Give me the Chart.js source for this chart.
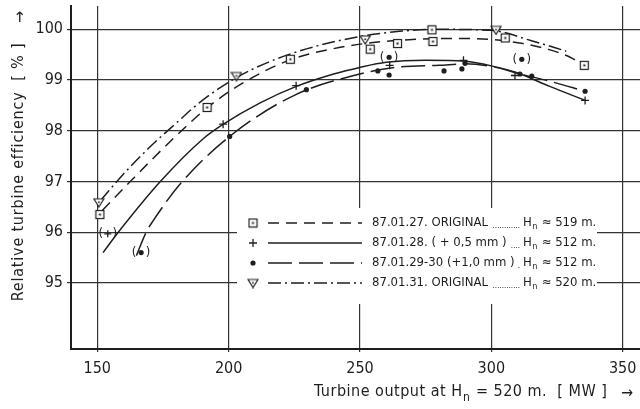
<!DOCTYPE html>
<html>
<head>
<meta charset="utf-8">
<script src="https://cdn.jsdelivr.net/npm/chart.js@4"></script>
<style>
  html, body { margin: 0; padding: 0; background: #fff; }
  #wrap { width: 640px; height: 409px; position: relative; }
</style>
</head>
<body>
<div id="wrap"><canvas id="chart"></canvas></div>
<script>
// Axis ticks
const xTicks = [150, 200, 250, 300, 350];
const yTicks = [95, 96, 97, 98, 99, 100];

// 87.01.27 ORIGINAL (squares, dashed curve)
const s27X = [151.0, 191.8, 223.5, 253.9, 264.3, 277.4, 277.8, 305.3, 335.4];
const s27Y = [96.35, 98.46, 99.41, 99.61, 99.72, 99.99, 99.76, 99.83, 99.29];
const c27X = [151.9, 165, 180, 192, 205, 223.5, 240, 255, 270, 285, 300, 312, 322, 330, 335.4];
const c27Y = [96.43, 97.13, 97.9, 98.46, 98.93, 99.40, 99.62, 99.74, 99.80, 99.82, 99.80, 99.72, 99.60, 99.45, 99.29];

// 87.01.28 (+0,5 mm) (crosses, solid curve)
const s28X = [197.9, 225.7, 261.3, 289.4, 309.0, 335.7];
const s28Y = [98.13, 98.89, 99.29, 99.39, 99.09, 98.60];
const p28X = [154.0];
const p28Y = [95.97];
const c28X = [152.2, 158, 174, 190, 198, 212, 226, 240, 250, 260, 275, 290, 300, 310, 322, 335.7];
const c28Y = [95.6, 96.0, 97.0, 97.83, 98.13, 98.55, 98.88, 99.12, 99.25, 99.35, 99.39, 99.37, 99.28, 99.14, 98.88, 98.60];

// 87.01.29-30 (+1,0 mm) (dots, long dashes)
const s29X = [200.4, 229.6, 256.8, 261.1, 282.0, 288.8, 290.0, 310.9, 315.4, 335.7];
const s29Y = [97.89, 98.81, 99.18, 99.10, 99.18, 99.22, 99.33, 99.12, 99.08, 98.78];
const p29X = [166.7, 261.1, 311.6];
const p29Y = [95.60, 99.45, 99.41];
const c29X = [164.9, 168.6, 171.3, 181.7, 200.4, 225, 250, 265, 280, 290, 300, 311, 322, 335.7];
const c29Y = [95.54, 96.0, 96.23, 96.96, 97.89, 98.7, 99.12, 99.26, 99.29, 99.32, 99.27, 99.12, 98.98, 98.78];

// 87.01.31 ORIGINAL (triangles, dash-dot curve)
const s31X = [150.6, 203.0, 252.0, 301.8];
const s31Y = [96.59, 99.08, 99.80, 99.99];
const c31X = [151.3, 160, 170, 180, 190, 203, 215, 230, 250, 265, 280, 300, 315, 328.5];
const c31Y = [96.63, 97.15, 97.68, 98.15, 98.6, 99.05, 99.35, 99.62, 99.86, 99.96, 100.0, 99.98, 99.78, 99.57];

// Legend texts
const legendDates = ['87.01.27. ORIGINAL', '87.01.28. ( + 0,5 mm )', '87.01.29-30 (+1,0 mm )', '87.01.31. ORIGINAL'];
const legendHeads = ['519', '512', '512', '520'];

const INK = '#1e1e1e';
const FONT = '"Liberation Sans Narrow", "DejaVu Sans Condensed", "Liberation Sans", sans-serif';

function pts(xs, ys) {
    return xs.map((x, i) => ({ x: x, y: ys[i] }));
}

// little square with a dot in it
function makeSquare() {
    const c = document.createElement('canvas');
    c.width = 11; c.height = 11;
    const g = c.getContext('2d');
    g.fillStyle = '#fff';
    g.fillRect(1, 1, 9, 9);
    g.strokeStyle = INK;
    g.lineWidth = 1.2;
    g.strokeRect(1.5, 1.5, 8, 8);
    g.fillStyle = INK;
    g.fillRect(4.5, 4.5, 2, 2);
    return c;
}

// down-pointing triangle
function makeTriangle() {
    const c = document.createElement('canvas');
    c.width = 12; c.height = 11;
    const g = c.getContext('2d');
    g.fillStyle = '#fff';
    g.strokeStyle = INK;
    g.lineWidth = 1.2;
    g.beginPath();
    g.moveTo(1, 2); g.lineTo(11, 2); g.lineTo(6, 10); g.closePath();
    g.fill(); g.stroke();
    g.fillStyle = INK;
    g.fillRect(5.2, 4.5, 1.6, 1.6);
    return c;
}

const SQUARE = makeSquare();
const TRIANGLE = makeTriangle();

const dash27 = [11, 7];
const dash28 = [];
const dash29 = [24, 7];
const dash31 = [13, 4, 2, 4];

function curve(xs, ys, dash) {
    return {
        data: pts(xs, ys), showLine: true, borderColor: INK, borderWidth: 1.5,
        borderDash: dash, pointRadius: 0, cubicInterpolationMode: 'monotone', fill: false
    };
}

const datasets = [
    { data: pts(s27X, s27Y), pointStyle: SQUARE, showLine: false },
    { data: pts(s31X, s31Y), pointStyle: TRIANGLE, showLine: false },
    { data: pts(s28X, s28Y), pointStyle: 'cross', pointRadius: 4, borderColor: INK, borderWidth: 1.3, showLine: false },
    { data: pts(p28X, p28Y), pointStyle: 'cross', pointRadius: 3.5, borderColor: INK, borderWidth: 1.3, showLine: false, paren: true },
    { data: pts(s29X, s29Y), pointStyle: 'circle', pointRadius: 2.6, backgroundColor: INK, borderColor: INK, borderWidth: 0, showLine: false },
    { data: pts(p29X, p29Y), pointStyle: 'circle', pointRadius: 2.6, backgroundColor: INK, borderColor: INK, borderWidth: 0, showLine: false, paren: true },
    curve(c27X, c27Y, dash27),
    curve(c28X, c28Y, dash28),
    curve(c29X, c29Y, dash29),
    curve(c31X, c31Y, dash31)
];

// "H" with subscript n, then rest of the string; returns end x
function drawHn(ctx, x, y, size, rest) {
    ctx.font = size + 'px ' + FONT;
    ctx.fillText('H', x, y);
    let w = ctx.measureText('H').width;
    ctx.font = Math.round(size * 0.72) + 'px ' + FONT;
    ctx.fillText('n', x + w + 0.5, y + size * 0.3);
    w += ctx.measureText('n').width + 1;
    ctx.font = size + 'px ' + FONT;
    ctx.fillText(rest, x + w, y);
    return x + w + ctx.measureText(rest).width;
}

const boxLegend = {
    id: 'boxLegend',
    beforeDatasetsDraw(chart) {
        const ctx = chart.ctx;
        ctx.save();
        ctx.fillStyle = '#fff';
        ctx.fillRect(237, 208, 360, 96);
        ctx.restore();
    },
    afterDatasetsDraw(chart) {
        const ctx = chart.ctx;
        const rows = [
            { mark: SQUARE, dash: dash27 },
            { mark: 'cross', dash: dash28 },
            { mark: 'dot', dash: dash29 },
            { mark: TRIANGLE, dash: dash31 }
        ];
        ctx.save();
        ctx.fillStyle = INK;
        ctx.strokeStyle = INK;
        rows.forEach((r, i) => {
            const y = 223 + i * 20;
            // marker
            if (r.mark === 'cross') {
                ctx.lineWidth = 1.3;
                ctx.setLineDash([]);
                ctx.beginPath();
                ctx.moveTo(249, y); ctx.lineTo(257, y);
                ctx.moveTo(253, y - 4); ctx.lineTo(253, y + 4);
                ctx.stroke();
            } else if (r.mark === 'dot') {
                ctx.beginPath();
                ctx.arc(253, y, 2.6, 0, Math.PI * 2);
                ctx.fill();
            } else {
                ctx.drawImage(r.mark, 253 - r.mark.width / 2, y - r.mark.height / 2);
            }
            // line sample
            ctx.lineWidth = 1.5;
            ctx.setLineDash(r.dash);
            ctx.beginPath();
            ctx.moveTo(268, y); ctx.lineTo(362, y);
            ctx.stroke();
            ctx.setLineDash([]);
            // text
            ctx.textBaseline = 'middle';
            ctx.textAlign = 'left';
            ctx.font = '13px ' + FONT;
            ctx.fillText(legendDates[i], 372, y);
            const tEnd = 372 + ctx.measureText(legendDates[i]).width + 3;
            ctx.font = '8px ' + FONT;
            const dw = ctx.measureText('.').width;
            const n = Math.max(0, Math.floor((520 - tEnd) / dw));
            ctx.textAlign = 'right';
            ctx.fillText('.'.repeat(n), 520, y + 3);
            ctx.textAlign = 'left';
            drawHn(ctx, 523, y, 13, ' \u2248 ' + legendHeads[i] + ' m.');
        });
        ctx.restore();
    }
};

// parentheses around doubtful points
const parens = {
    id: 'parens',
    afterDatasetsDraw(chart) {
        const ctx = chart.ctx;
        ctx.save();
        ctx.fillStyle = INK;
        ctx.font = '13px ' + FONT;
        ctx.textBaseline = 'middle';
        ctx.textAlign = 'center';
        chart.data.datasets.forEach((ds, i) => {
            if (!ds.paren) return;
            chart.getDatasetMeta(i).data.forEach(pt => {
                ctx.fillText('(', pt.x - 7, pt.y);
                ctx.fillText(')', pt.x + 7, pt.y);
            });
        });
        ctx.restore();
    }
};

// axis titles with the little arrows
const axisTitles = {
    id: 'axisTitles',
    afterDraw(chart) {
        const ctx = chart.ctx;
        ctx.save();
        ctx.fillStyle = INK;
        ctx.textBaseline = 'alphabetic';
        ctx.textAlign = 'left';
        ctx.letterSpacing = '0.5px';
        ctx.font = '16px ' + FONT;
        const lead = 'Turbine output at ';
        ctx.fillText(lead, 314, 396);
        drawHn(ctx, 314 + ctx.measureText(lead).width, 396, 16, ' = 520 m.  [ MW ]');
        ctx.letterSpacing = '0px';
        ctx.font = '16px ' + FONT;
        ctx.fillText('\u2192', 621, 398);

        ctx.translate(23, 0);
        ctx.rotate(-Math.PI / 2);
        ctx.textAlign = 'center';
        ctx.letterSpacing = '0.8px';
        ctx.font = '16px ' + FONT;
        ctx.fillText('Relative turbine efficiency  [ % ]', -172, 0);
        ctx.letterSpacing = '0px';
        ctx.fillText('\u2192', -17, 2);
        ctx.restore();
    }
};

new Chart(document.getElementById('chart'), {
    type: 'scatter',
    data: { datasets: datasets },
    options: {
        responsive: true,
        maintainAspectRatio: false,
        animation: false,
        events: [],
        layout: { autoPadding: false, padding: { top: 6, right: 0, bottom: 0, left: 0 } },
        plugins: { legend: { display: false }, tooltip: { enabled: false } },
        scales: {
            x: {
                type: 'linear', min: 140, max: 356.6,
                afterBuildTicks: s => { s.ticks = xTicks.map(v => ({ value: v })); },
                afterFit: s => { s.height = 60; s.paddingLeft = 0; s.paddingRight = 0; },
                grid: { color: '#333', lineWidth: 1.2, tickLength: 3 },
                border: { color: INK, width: 2 },
                ticks: { color: INK, font: { family: FONT, size: 16 }, padding: 7, maxRotation: 0 }
            },
            y: {
                min: 93.7, max: 100.46,
                afterBuildTicks: s => { s.ticks = yTicks.map(v => ({ value: v })); },
                afterFit: s => { s.width = 71; s.paddingTop = 0; s.paddingBottom = 0; },
                grid: { color: '#333', lineWidth: 1.2, tickLength: 4 },
                border: { color: INK, width: 2 },
                ticks: { color: INK, font: { family: FONT, size: 16 }, padding: 4 }
            }
        }
    },
    plugins: [boxLegend, parens, axisTitles]
});
</script>
</body>
</html>
